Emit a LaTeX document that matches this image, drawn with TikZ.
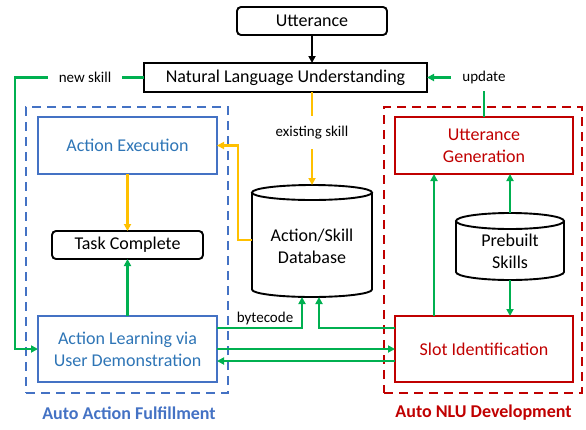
\documentclass[tikz,border=0pt]{standalone}
\usepackage{fontspec}
\setmainfont{Carlito}
\usetikzlibrary{arrows.meta}
\definecolor{bluebord}{RGB}{68,114,196}
\definecolor{bluetext}{RGB}{46,117,182}
\definecolor{redc}{RGB}{192,0,0}
\definecolor{greenc}{RGB}{0,176,80}
\definecolor{yellowc}{RGB}{255,192,0}
\begin{document}
\begin{tikzpicture}[x=1pt,y=-1pt,
  every node/.style={inner sep=0pt, outer sep=0pt},
  boxtxt/.style={font=\fontsize{18}{22}\selectfont, align=center},
  blackbox/.style={boxtxt, draw=black, line width=1.9pt},
  bluebox/.style={boxtxt, draw=bluebord, line width=1.9pt, text=bluetext},
  redbox/.style={boxtxt, draw=redc, line width=1.9pt, text=redc},
  cylline/.style={draw=black, line width=1.9pt},
  lab/.style={font=\fontsize{15}{18}\selectfont},
  frame/.style={line width=2pt, dash pattern=on 9pt off 6pt},
  tip/.style={-{Triangle[length=7pt,width=7pt]}},
  grn/.style={draw=greenc, line width=2.3pt, tip},
  yel/.style={draw=yellowc, line width=2.3pt, tip},
  blk/.style={draw=black, line width=1.9pt, tip}]

\useasboundingbox (0,0) rectangle (586,429);

% group frames
\node[frame, draw=bluebord, minimum width=202pt, minimum height=286pt] (fulfil) at (127,250) {};
\node[frame, draw=redc, minimum width=198pt, minimum height=286pt] (nludev) at (483,250) {};
\node[font=\fontsize{18}{22}\selectfont\bfseries, text=bluebord] (fulfiltitle) at (129,413) {Auto Action Fulfillment};
\node[font=\fontsize{18}{22}\selectfont\bfseries, text=redc] (nludevtitle) at (483.5,413) {Auto NLU Development};

% boxes
\node[blackbox, rounded corners=4pt, minimum width=150pt, minimum height=28pt] (utt) at (312,21) {Utterance};
\node[blackbox, minimum width=283pt, minimum height=29pt] (nlu) at (285.5,77.5) {Natural Language Understanding};
\node[bluebox, minimum width=179pt, minimum height=57pt] (ae) at (127.5,145.5) {Action Execution};
\node[blackbox, rounded corners=4pt, minimum width=151pt, minimum height=28pt] (tc) at (127.5,245) {Task Complete};
\node[bluebox, minimum width=179pt, minimum height=66pt] (alu) at (127.5,349) {Action Learning via\\User Demonstration};
\node[redbox, minimum width=178pt, minimum height=57pt] (ug) at (484,145.5) {Utterance\\Generation};
\node[redbox, minimum width=178pt, minimum height=66pt] (slot) at (484,349) {Slot Identification};

% skill database cylinder
\node[minimum width=120pt, minimum height=112pt] (db) at (312,241) {};
\draw[cylline] (312,192.5) ellipse [x radius=60pt, y radius=7.5pt];
\draw[cylline] (252,192.5) -- (252,289.5) arc[start angle=180, end angle=360, x radius=60pt, y radius=7.5pt] -- (372,192.5);
\node[boxtxt] (dbtext) at (312,246) {Action/Skill\\Database};

% prebuilt skills cylinder
\node[minimum width=108pt, minimum height=67pt] (pre) at (510,246.5) {};
\draw[cylline] (510,221) ellipse [x radius=54pt, y radius=8pt];
\draw[cylline] (456,221) -- (456,272) arc[start angle=180, end angle=360, x radius=54pt, y radius=8pt] -- (564,221);
\node[boxtxt] (pretext) at (510,251) {Prebuilt\\Skills};

% connectors
\draw[blk] (utt.south) -- (utt.south |- nlu.north);
\draw[yel] (db.north |- nlu.south) -- node[lab, pos=0.44, fill=white, inner xsep=2pt, inner ysep=10pt] (exlab) {existing skill} (db.north);
\draw[yel] ([yshift=1pt]db.west) -- ++(-14,0) |- (ae.east);
\draw[yel] (ae.south) -- (tc.north);
\draw[grn] (alu.north) -- (tc.south);
\draw[grn] (nlu.west) -- node[lab, pos=0.457, fill=white, inner xsep=10.5pt, inner ysep=4pt] (nslab) {new skill} (15,77.5) |- (alu.west);
\draw[grn] (ug.north) -- (ug.north |- nlu.east) node[lab, fill=white, minimum width=66pt, minimum height=26pt] (uplab) {update} -- (nlu.east);
\draw[grn] ([yshift=21pt]alu.east) -| ([xshift=-10pt]db.south);
\node[lab, anchor=south] (bclab) at (265,325) {bytecode};
\draw[grn] ([yshift=21pt]slot.west) -| ([xshift=7pt]db.south);
\draw[grn] (alu.east) -- (slot.west);
\draw[grn] ([yshift=-12pt]slot.west) -- ([yshift=-12pt]alu.east);
\draw[grn] ([xshift=-50pt]slot.north) -- ([xshift=-50pt]ug.south);
\draw[grn] (pre.north) -- (pre.north |- ug.south);
\draw[grn] (pre.south) -- (pre.south |- slot.north);
\end{tikzpicture}
\end{document}
